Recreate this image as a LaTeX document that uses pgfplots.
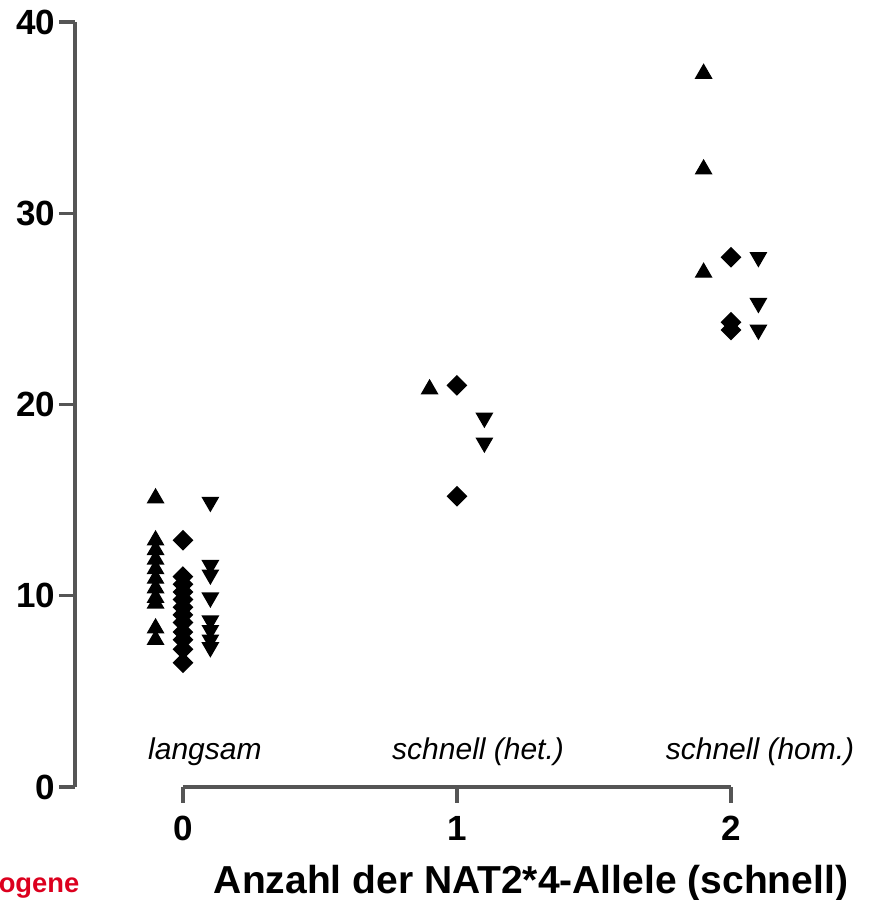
\documentclass[border=0pt]{standalone}
\usepackage{pgfplots}
\pgfplotsset{compat=1.18}
\usepackage{fontspec}
\setmainfont{Liberation Sans}
\definecolor{axisgray}{RGB}{85,85,85}
\definecolor{redtxt}{RGB}{220,0,30}

\begin{document}
\begin{tikzpicture}
\begin{axis}[
    scale only axis,
    width=237.9pt, height=229.5pt,
    xmin=-0.394, xmax=2.5, ymin=0, ymax=40,
    axis y line*=left, axis x line*=bottom,
    y axis line style={axisgray, line width=1pt},
    x axis line style={axisgray, line width=1pt, shorten <=32.4pt, shorten >=41.1pt},
    xtick={0,1,2}, ytick={0,10,20,30,40},
    tick align=outside, major tick length=4.8pt,
    tick style={axisgray, line width=1pt},
    /pgf/number format/assume math mode=true,
    ticklabel style={font=\bfseries\fontsize{10.5}{12}\selectfont},
    yticklabel style={inner sep=1pt},
    xticklabel style={yshift=-0.5pt},
    clip=false,
    mark size=2.7pt,
]
% up triangles
\addplot[only marks, mark=triangle*, black] coordinates {
    (-0.1,15.1)(-0.1,12.9)(-0.1,12.4)(-0.1,11.9)(-0.1,11.4)(-0.1,10.9)
    (-0.1,10.4)(-0.1,9.9)(-0.1,9.6)(-0.1,8.3)(-0.1,7.7)
    (0.9,20.8)
    (1.9,37.3)(1.9,32.3)(1.9,26.9)
};
% diamonds
\addplot[only marks, mark=square*, mark size=2pt, mark options={rotate=45}, black] coordinates {
    (0,12.9)(0,11.0)(0,10.6)(0,10.2)(0,9.8)(0,9.4)(0,9.0)(0,8.6)
    (0,8.1)(0,7.7)(0,7.2)(0,6.5)
    (1,21.0)(1,15.2)
    (2,27.7)(2,24.3)(2,23.9)
};
% down triangles
\addplot[only marks, mark=triangle*, mark options={rotate=180}, black] coordinates {
    (0.1,14.9)(0.1,11.6)(0.1,11.1)(0.1,9.9)(0.1,8.7)(0.1,8.2)(0.1,7.7)(0.1,7.3)
    (1.1,19.3)(1.1,18.0)
    (2.1,27.7)(2.1,25.3)(2.1,23.9)
};
\node[font=\itshape\fontsize{9}{11}\selectfont] at (axis cs:0.08,1.83) {langsam};
\node[font=\itshape\fontsize{9}{11}\selectfont] at (axis cs:1.077,1.83) {schnell (het.)};
\node[font=\itshape\fontsize{9}{11}\selectfont] at (axis cs:2.106,1.83) {schnell (hom.)};
\node[font=\bfseries\fontsize{11.7}{14}\selectfont] at (axis cs:1.27,-5.05) {Anzahl der NAT2*4-Allele (schnell)};
\node[anchor=east, inner sep=0pt, text=redtxt, font=\bfseries\fontsize{8.2}{10}\selectfont] at (axis cs:-0.376,-5.3) {ogene};
\end{axis}
\pgfresetboundingbox
\useasboundingbox ([xshift=-22.5pt, yshift=-33.9pt]current axis.south west) rectangle ([xshift=0.6pt, yshift=6.6pt]current axis.north east);
\end{tikzpicture}
\end{document}
